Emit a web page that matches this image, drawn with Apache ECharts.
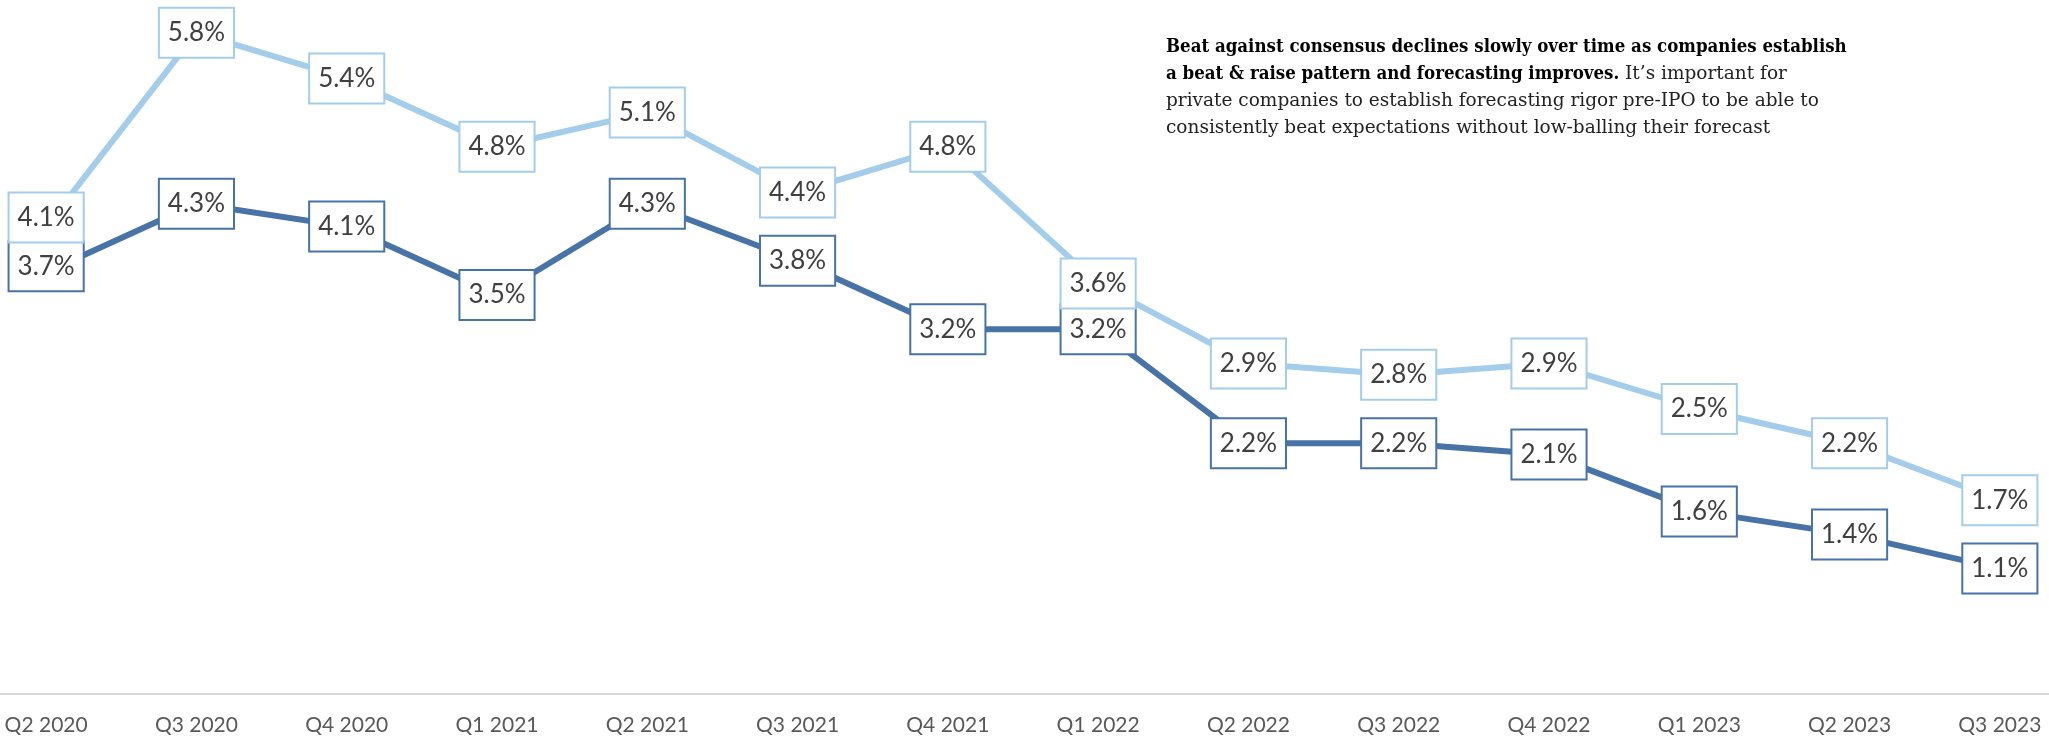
<!DOCTYPE html>
<html>
<head>
<meta charset="utf-8">
<script src="https://cdn.jsdelivr.net/npm/echarts@6/dist/echarts.min.js"></script>
<style>
  html, body { margin: 0; padding: 0; background: #ffffff; }
  #chart { width: 2049px; height: 743px; }
</style>
</head>
<body>
<div id="chart"></div>
<script>
// Quarterly beat against consensus (%)
const quarters = ['Q2 2020', 'Q3 2020', 'Q4 2020', 'Q1 2021', 'Q2 2021', 'Q3 2021', 'Q4 2021',
                  'Q1 2022', 'Q2 2022', 'Q3 2022', 'Q4 2022', 'Q1 2023', 'Q2 2023', 'Q3 2023'];
const upperBeat = [4.1, 5.8, 5.4, 4.8, 5.1, 4.4, 4.8, 3.6, 2.9, 2.8, 2.9, 2.5, 2.2, 1.7];
const lowerBeat = [3.7, 4.3, 4.1, 3.5, 4.3, 3.8, 3.2, 3.2, 2.2, 2.2, 2.1, 1.6, 1.4, 1.1];

const LIGHT = '#a3cdea';
const DARK = '#4873a6';

function labelStyle(border) {
  return {
    show: true,
    position: 'inside',
    formatter: p => p.value.toFixed(1) + '%',
    fontFamily: 'Lato',
    fontSize: 26,
    lineHeight: 30,
    color: '#404040',
    backgroundColor: '#ffffff',
    borderColor: border,
    borderWidth: 2,
    padding: [9, 8, 9, 8]
  };
}

// the first quarter's two boxes sit stacked, nudged up a little
function withNudge(values, dy) {
  return values.map((v, i) => i === 0 ? { value: v, label: { offset: [0, dy] } } : v);
}

const chart = echarts.init(document.getElementById('chart'), null, { renderer: 'canvas' });
chart.setOption({
  animation: false,
  backgroundColor: '#ffffff',
  title: {
    left: 1161,
    top: 29,
    text: '{b|Beat against consensus declines slowly over time as companies establish}\n' +
          '{b|a beat & raise pattern and forecasting improves.}{r| It\u2019s important for}\n' +
          '{r|private companies to establish forecasting rigor pre-IPO to be able to}\n' +
          '{r|consistently beat expectations without low-balling their forecast}',
    textStyle: {
      rich: {
        b: { fontFamily: "'DejaVu Serif Condensed', 'DejaVu Serif'", fontWeight: 'bold', fontSize: 18.5, lineHeight: 27, color: '#000000' },
        r: { fontFamily: 'DejaVu Serif', fontWeight: 'normal', fontSize: 18.5, lineHeight: 27, color: '#222222' }
      }
    }
  },
  grid: {
    left: -29,
    right: -26,
    top: 10,
    bottom: 49,
    containLabel: false,
    outerBoundsMode: 'none'
  },
  xAxis: {
    type: 'category',
    data: quarters,
    boundaryGap: true,
    axisLine: { show: true, lineStyle: { color: '#d9d9d9', width: 2 } },
    axisTick: { show: false },
    axisLabel: {
      margin: 21,
      fontFamily: 'Lato',
      fontSize: 21,
      color: '#595959',
      interval: 0
    },
    splitLine: { show: false }
  },
  yAxis: {
    type: 'value',
    min: 0,
    max: 6,
    show: false,
    splitLine: { show: false }
  },
  series: [
    {
      name: 'lower',
      type: 'line',
      z: 2,
      data: withNudge(lowerBeat, -6),
      symbol: 'circle',
      symbolSize: 1,
      itemStyle: { color: DARK },
      lineStyle: { color: DARK, width: 6 },
      label: labelStyle(DARK)
    },
    {
      name: 'upper',
      type: 'line',
      z: 3,
      data: withNudge(upperBeat, -9),
      symbol: 'circle',
      symbolSize: 1,
      itemStyle: { color: LIGHT },
      lineStyle: { color: LIGHT, width: 6 },
      label: labelStyle(LIGHT)
    }
  ]
});
</script>
</body>
</html>
